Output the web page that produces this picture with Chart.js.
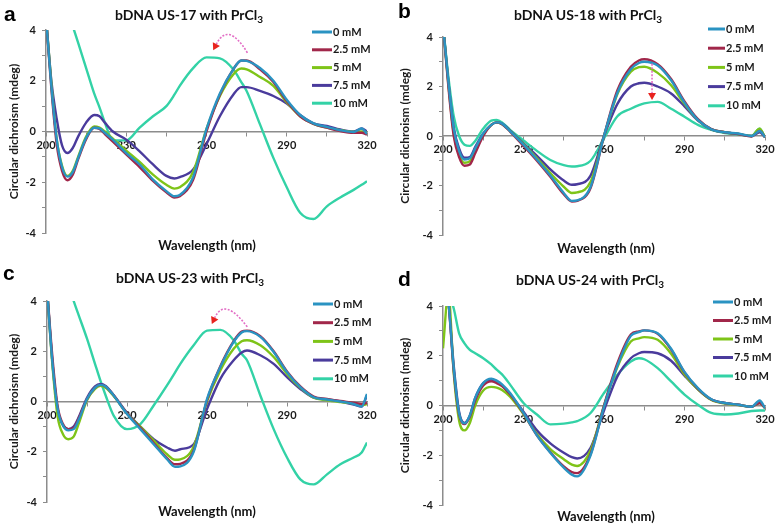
<!DOCTYPE html>
<html>
<head>
<meta charset="utf-8">
<script src="https://cdn.jsdelivr.net/npm/chart.js@4.4.0/dist/chart.umd.min.js"></script>
<style>
  body { margin: 0; background: #fff; width: 782px; height: 527px; position: relative; overflow: hidden; }
  canvas { position: absolute; }
  .lbl { position: absolute; font: bold 21px "Liberation Sans", Arial, sans-serif; line-height: 21px; color: #000; }
  .ttl { position: absolute; width: 300px; text-align: center; white-space: nowrap;
         font: bold 14px Lato, sans-serif; line-height: 18px; color: #111; }
  .ttl sub { font-size: 10px; line-height: 0; vertical-align: -3px; }
  .xt { position: absolute; width: 300px; text-align: center; font: bold 13px Lato, sans-serif; line-height: 18px; color: #111; }
</style>
</head>
<body>
<canvas id="ca" width="391" height="263" style="left:0;top:0"></canvas>
<canvas id="cb" width="391" height="263" style="left:391px;top:0"></canvas>
<canvas id="cc" width="391" height="264" style="left:0;top:263px"></canvas>
<canvas id="cd" width="391" height="264" style="left:391px;top:263px"></canvas>

<div class="lbl" style="left:4px;top:3px">a</div>
<div class="lbl" style="left:398px;top:0px">b</div>
<div class="lbl" style="left:3px;top:262px">c</div>
<div class="lbl" style="left:398px;top:268px">d</div>

<div class="ttl" style="left:39px;top:6px">bDNA US-17 with PrCl<sub>3</sub></div>
<div class="ttl" style="left:438px;top:6px">bDNA US-18 with PrCl<sub>3</sub></div>
<div class="ttl" style="left:40px;top:269px">bDNA US-23 with PrCl<sub>3</sub></div>
<div class="ttl" style="left:440px;top:271px">bDNA US-24 with PrCl<sub>3</sub></div>

<div class="xt" style="left:57px;top:236px">Wavelength (nm)</div>
<div class="xt" style="left:456px;top:239px">Wavelength (nm)</div>
<div class="xt" style="left:57px;top:502px">Wavelength (nm)</div>
<div class="xt" style="left:456px;top:507px">Wavelength (nm)</div>

<script>
// wavelength samples (nm), shared by all panels
var wavelength = [200,202,204,206,208,210,212,215,218,220,222,225,230,235,240,245,248,250,255,260,265,270,273,275,280,285,290,295,300,305,310,315,318,320];
var concLabels = ['0 mM', '2.5 mM', '5 mM', '7.5 mM', '10 mM'];
var lineColors = ['#2a93c2', '#a1274a', '#7ec418', '#4a3b9c', '#33d2a6'];

// a: US-17
var a0  = [4.5,1.8,-0.3,-1.4,-1.78,-1.6,-1.05,-0.25,0.15,0.12,-0.05,-0.32,-0.85,-1.3,-1.9,-2.35,-2.55,-2.5,-1.8,0.1,1.5,2.45,2.8,2.78,2.5,2.0,1.25,0.65,0.32,0.18,0.05,-0.02,0.12,-0.1];
var a25 = [4.5,1.7,-0.5,-1.55,-1.92,-1.7,-1.1,-0.3,0.15,0.1,-0.1,-0.4,-0.9,-1.4,-1.95,-2.4,-2.6,-2.55,-1.9,0.0,1.45,2.45,2.8,2.8,2.45,1.95,1.2,0.6,0.3,0.15,0.02,-0.05,-0.05,-0.12];
var a5  = [4.5,1.9,-0.3,-1.35,-1.75,-1.55,-1.0,-0.2,0.2,0.15,0.0,-0.28,-0.75,-1.2,-1.7,-2.1,-2.25,-2.2,-1.6,0.1,1.4,2.25,2.48,2.45,2.15,1.8,1.15,0.6,0.3,0.15,0.05,-0.02,0.0,-0.05];
var a75 = [4.5,2.0,0.5,-0.55,-0.85,-0.65,-0.2,0.35,0.65,0.6,0.35,0.0,-0.32,-0.78,-1.3,-1.75,-1.85,-1.8,-1.5,-0.5,0.6,1.45,1.75,1.75,1.6,1.4,1.1,0.65,0.32,0.22,0.08,0.0,0.12,0.0];
var a10 = [7.5,6.8,6.1,5.5,4.8,4.15,3.5,2.5,1.5,0.95,0.35,-0.35,-0.35,0.15,0.6,1.0,1.45,1.8,2.5,2.92,2.88,2.45,1.95,1.6,0.28,-1.04,-2.2,-3.2,-3.45,-2.95,-2.6,-2.3,-2.1,-1.96];

// b: US-18
var b0  = [4.5,2.2,0.3,-0.6,-0.95,-0.9,-0.5,0.1,0.45,0.55,0.5,0.2,-0.35,-0.95,-1.6,-2.3,-2.62,-2.6,-2.05,0.0,1.75,2.7,2.95,3.0,2.85,2.25,1.35,0.65,0.27,0.15,0.1,0.0,0.2,-0.05];
var b25 = [4.5,2.0,0.0,-0.85,-1.2,-1.15,-0.7,0.0,0.45,0.55,0.48,0.18,-0.4,-1.0,-1.65,-2.35,-2.65,-2.62,-2.1,0.0,1.85,2.8,3.05,3.1,2.9,2.3,1.4,0.68,0.28,0.15,0.08,-0.02,0.2,-0.05];
var b5  = [4.5,2.1,0.1,-0.75,-1.08,-1.02,-0.6,0.05,0.45,0.55,0.48,0.2,-0.33,-0.9,-1.5,-2.05,-2.3,-2.28,-1.85,0.0,1.7,2.6,2.78,2.8,2.55,2.05,1.3,0.65,0.27,0.15,0.08,0.0,0.3,-0.05];
var b75 = [4.5,2.2,0.35,-0.5,-0.88,-0.85,-0.45,0.1,0.45,0.55,0.5,0.22,-0.3,-0.8,-1.35,-1.8,-1.97,-1.95,-1.6,0.0,1.3,2.0,2.13,2.15,2.0,1.72,1.2,0.62,0.27,0.15,0.08,0.0,0.15,-0.05];
var b10 = [4.5,2.4,0.8,0.0,-0.35,-0.4,-0.2,0.3,0.62,0.65,0.55,0.25,-0.18,-0.6,-0.97,-1.18,-1.23,-1.22,-1.0,-0.1,0.8,1.1,1.25,1.32,1.38,1.1,0.78,0.45,0.25,0.12,0.06,0.0,0.3,-0.05];

// c: US-23
var c0  = [4.5,1.6,-0.3,-0.95,-1.15,-1.1,-0.7,0.1,0.55,0.66,0.6,0.24,-0.5,-1.1,-1.7,-2.3,-2.6,-2.58,-2.0,0.1,1.37,2.37,2.75,2.8,2.57,1.97,1.17,0.57,0.17,0.08,0.0,-0.1,-0.2,0.3];
var c25 = [4.5,1.8,-0.2,-0.9,-1.1,-1.05,-0.65,0.1,0.55,0.66,0.6,0.25,-0.48,-1.05,-1.65,-2.25,-2.5,-2.48,-1.95,0.05,1.4,2.4,2.78,2.82,2.6,2.0,1.2,0.6,0.2,0.1,0.02,-0.05,-0.1,-0.05];
var c5  = [4.5,1.5,-0.6,-1.3,-1.5,-1.4,-0.85,0.05,0.5,0.62,0.55,0.22,-0.48,-1.0,-1.55,-2.1,-2.32,-2.3,-1.8,0.0,1.24,2.1,2.4,2.44,2.24,1.77,1.1,0.55,0.15,0.05,-0.02,-0.08,-0.15,-0.1];
var c75 = [4.5,1.6,-0.3,-0.95,-1.1,-1.0,-0.6,0.15,0.6,0.7,0.62,0.25,-0.45,-1.0,-1.5,-1.83,-1.96,-1.9,-1.7,-0.3,0.9,1.64,1.95,2.03,1.84,1.5,0.97,0.5,0.15,0.08,0.0,-0.12,-0.2,0.25];
var c10 = [7.5,6.8,6.1,5.4,4.7,4.0,3.4,2.5,1.5,0.84,0.24,-0.56,-1.1,-0.9,-0.16,0.64,1.15,1.5,2.24,2.82,2.85,2.44,1.9,1.64,0.24,-1.1,-2.23,-3.1,-3.3,-2.9,-2.5,-2.23,-2.03,-1.63];

// d: US-24
var d0  = [5.5,4.2,1.5,-0.3,-0.72,-0.4,0.3,0.9,1.08,1.0,0.85,0.5,-0.3,-1.2,-1.9,-2.5,-2.78,-2.85,-2.0,-0.05,1.6,2.8,2.95,3.02,2.9,2.28,1.35,0.7,0.25,0.1,0.03,-0.05,0.2,-0.1];
var d25 = [5.5,4.2,1.4,-0.35,-0.75,-0.45,0.2,0.8,0.97,0.9,0.78,0.45,-0.32,-1.2,-1.88,-2.45,-2.68,-2.72,-1.95,0.0,1.7,2.85,2.98,3.02,2.88,2.25,1.33,0.68,0.24,0.1,0.03,-0.05,0.1,-0.1];
var d5  = [2.3,4.5,1.3,-0.6,-1.0,-0.7,0.0,0.6,0.75,0.72,0.62,0.35,-0.35,-1.15,-1.75,-2.16,-2.38,-2.43,-1.8,0.0,1.55,2.57,2.7,2.75,2.64,2.08,1.25,0.65,0.22,0.08,0.02,-0.05,0.1,-0.1];
var d75 = [5.5,4.2,1.6,-0.25,-0.7,-0.4,0.3,0.9,1.04,0.95,0.8,0.45,-0.25,-1.0,-1.52,-1.9,-2.08,-2.13,-1.7,-0.2,1.17,1.9,2.1,2.15,2.1,1.8,1.2,0.65,0.24,0.1,0.03,-0.05,0.15,-0.1];
var d10 = [5.0,4.5,3.9,2.9,2.5,2.24,2.1,1.9,1.65,1.44,1.25,0.84,0.1,-0.36,-0.76,-0.73,-0.68,-0.63,-0.3,0.5,1.24,1.77,1.9,1.86,1.5,0.97,0.44,0.03,-0.3,-0.36,-0.32,-0.22,-0.2,-0.2];

// arrows: start (nm, mdeg), top of curve, tip
var arrowA = [275.3, 3.1, 268.5, 3.75, 262.5, 3.2];
var arrowB = [277.9, 2.93, 277.9, 2.2, 277.9, 1.45];
var arrowC = [275.1, 2.97, 267.5, 3.6, 261.8, 3.08];

var axisGray = '#8c8c8c';
var tickFont = { family: 'Lato', weight: 'bold', size: 11 };

function legendPlugin(pos) {
  return {
    id: 'cdLegend',
    afterDraw: function(chart) {
      var ctx = chart.ctx;
      ctx.save();
      ctx.font = 'bold 11px Lato';
      ctx.textBaseline = 'middle';
      chart.data.datasets.forEach(function(ds, i) {
        var y = pos.y + i * pos.step;
        ctx.strokeStyle = ds.borderColor;
        ctx.lineWidth = 3;
        ctx.beginPath();
        ctx.moveTo(pos.x, y);
        ctx.lineTo(pos.x + pos.len, y);
        ctx.stroke();
        ctx.fillStyle = '#1a1a1a';
        ctx.fillText(ds.label, pos.x + pos.len + 1, y);
      });
      ctx.restore();
    }
  };
}

function arrowPlugin(a) {
  return {
    id: 'cdArrow',
    afterDatasetsDraw: function(chart) {
      if (!a) return;
      var xs = chart.scales.x, ys = chart.scales.y, ctx = chart.ctx;
      var x0 = xs.getPixelForValue(a[0]), y0 = ys.getPixelForValue(a[1]);
      var xm = xs.getPixelForValue(a[2]), ym = ys.getPixelForValue(a[3]);
      var x2 = xs.getPixelForValue(a[4]), y2 = ys.getPixelForValue(a[5]);
      var cx = 2 * xm - (x0 + x2) / 2, cy = 2 * ym - (y0 + y2) / 2;
      var ang = Math.atan2(y2 - cy, x2 - cx);
      var bx = x2 - 7 * Math.cos(ang), by = y2 - 7 * Math.sin(ang);
      ctx.save();
      ctx.setLineDash([2, 1.5]);
      ctx.strokeStyle = '#e36fc6';
      ctx.lineWidth = 1.6;
      ctx.beginPath();
      ctx.moveTo(x0, y0);
      ctx.quadraticCurveTo(cx, cy, bx, by);
      ctx.stroke();
      ctx.setLineDash([]);
      ctx.fillStyle = '#e8231f';
      ctx.beginPath();
      ctx.moveTo(x2, y2);
      ctx.lineTo(bx + 4 * Math.sin(ang), by - 4 * Math.cos(ang));
      ctx.lineTo(bx - 4 * Math.sin(ang), by + 4 * Math.cos(ang));
      ctx.closePath();
      ctx.fill();
      ctx.restore();
    }
  };
}

function makeChart(id, sets, box, legendPos, arrow) {
  new Chart(document.getElementById(id), {
    type: 'line',
    data: {
      datasets: sets.map(function(vals, i) {
        return {
          label: concLabels[i],
          data: wavelength.map(function(x, j) { return { x: x, y: vals[j] }; }),
          borderColor: lineColors[i],
          borderWidth: 2.4,
          pointRadius: 0,
          cubicInterpolationMode: 'monotone',
          fill: false
        };
      })
    },
    options: {
      responsive: false,
      animation: false,
      devicePixelRatio: 1,
      layout: { padding: { top: box.top, bottom: box.bottom, left: 0, right: box.right } },
      plugins: { legend: { display: false }, tooltip: { enabled: false } },
      scales: {
        x: {
          type: 'linear', min: 200, max: 320, position: { y: 0 },
          border: { color: axisGray, width: 1.5 },
          grid: { drawOnChartArea: false, color: axisGray, tickLength: 4 },
          ticks: {
            stepSize: 15, autoSkip: false, maxRotation: 0, padding: 3,
            color: '#1a1a1a', font: tickFont,
            callback: function(v) { return (v - 200) % 30 === 0 ? v : ''; }
          }
        },
        y: {
          min: -4, max: 4,
          afterFit: function(s) { s.width = box.left; },
          border: { color: axisGray, width: 1.5 },
          grid: { drawOnChartArea: false, color: axisGray, tickLength: 4 },
          ticks: {
            stepSize: 1, padding: 6, color: '#1a1a1a', font: tickFont,
            callback: function(v) { return v % 2 === 0 ? v : ''; }
          },
          title: {
            display: true, text: 'Circular dichroism (mdeg)', color: '#1a1a1a',
            font: { family: 'Lato', weight: 'bold', size: 12 },
            padding: { top: 7, bottom: 0 }
          }
        }
      }
    },
    plugins: [legendPlugin(legendPos), arrowPlugin(arrow)]
  });
}

makeChart('ca', [a0, a25, a5, a75, a10], { top: 30, bottom: 30, left: 46, right: 24 }, { x: 312, y: 32, step: 17.8, len: 20 }, arrowA);
makeChart('cb', [b0, b25, b5, b75, b10], { top: 37, bottom: 28, left: 52, right: 17 }, { x: 317, y: 29, step: 19.2, len: 17 }, arrowB);
makeChart('cc', [c0, c25, c5, c75, c10], { top: 38, bottom: 25, left: 47, right: 24 }, { x: 313, y: 41, step: 18.7, len: 20 }, arrowC);
makeChart('cd', [d0, d25, d5, d75, d10], { top: 43, bottom: 22, left: 52, right: 17 }, { x: 322, y: 39, step: 18.5, len: 20 }, null);
</script>
</body>
</html>
